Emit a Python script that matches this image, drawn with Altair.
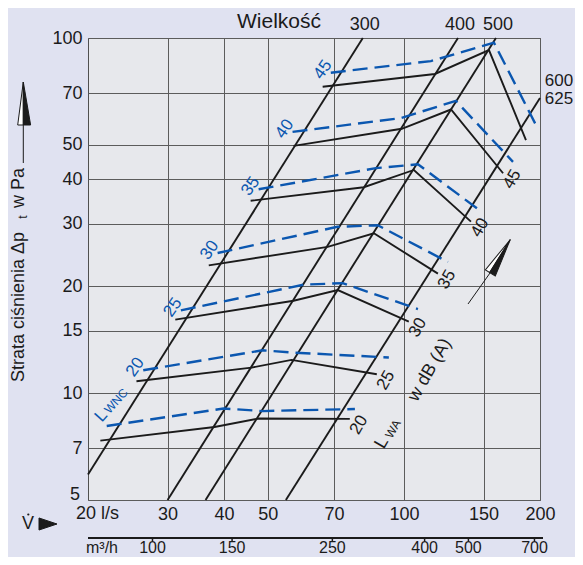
import math
import altair as alt
import pandas as pd

# ---------------- data ----------------
x_ticks = [30, 40, 50, 70, 100, 150, 200]
y_ticks = [5, 7, 10, 15, 20, 30, 40, 50, 70, 100]
m3h_ticks = [100, 150, 250, 400, 500, 700]

# size lines (Wielkość): straight lines on log-log paper
size_top_labels = ["300", "400", "500"]
size_side_labels = ["600", "625"]
size_v0 = [20.0, 30.0, 36.4, 54.8]
size_p0 = [5.9, 5.0, 5.0, 5.0]
size_v1 = [81.1, 131.7, 159.8, 200.0]
size_p1 = [100.0, 100.0, 100.0, 67.8]

# L_WA curves (black, solid)
lwa_labels = ["20", "25", "30", "35", "40", "45", ""]
lwa_v = [
    [21.3, 38.1, 47.7, 75.9],
    [25.6, 46.0, 56.4, 87.1],
    [31.2, 57.0, 71.4, 102.5],
    [37.0, 67.8, 85.8, 118.9],
    [45.8, 81.5, 105.2, 140.7],
    [57.0, 98.9, 127.1, 165.7],
    [66.1, 117.1, 154.2, 186.2],
]
lwa_p = [
    [7.35, 8.03, 8.48, 8.46],
    [10.8, 11.8, 12.4, 11.3],
    [16.1, 18.2, 19.5, 15.9],
    [22.9, 25.8, 28.2, 21.7],
    [34.8, 38.0, 42.5, 30.4],
    [49.7, 55.5, 62.9, 41.6],
    [72.9, 79.2, 92.5, 51.6],
]

# L_WNC curves (blue, dashed)
lwnc_labels = ["", "20", "25", "30", "35", "40", "45"]
lwnc_v = [
    [22.0, 39.9, 48.7, 77.9],
    [26.5, 48.7, 57.3, 92.6],
    [32.1, 60.0, 73.2, 107.4],
    [38.7, 71.3, 87.5, 125.1],
    [47.7, 86.7, 107.4, 146.6],
    [56.7, 98.4, 130.3, 174.3],
    [68.9, 114.7, 158.2, 195.9],
]
lwnc_p = [
    [8.08, 9.05, 8.90, 9.02],
    [11.6, 13.2, 13.0, 12.6],
    [17.1, 20.2, 20.4, 17.25],
    [24.8, 29.4, 29.7, 23.4],
    [37.5, 43.0, 44.1, 32.8],
    [54.4, 59.5, 66.5, 44.8],
    [79.85, 86.1, 97.0, 56.9],
]

# ---------------- styling ----------------
FONT = "Liberation Sans"
BLUE = "#0b57b0"
INK = "#1b1b1b"
GRID = "#5c5c5c"
BG = "#e0e2f1"
PLOT_BG = "#e7e8ec"


def curve_frame(vs_list, ps_list):
    rows = []
    for i, (vs, ps) in enumerate(zip(vs_list, ps_list)):
        for j, (v, p) in enumerate(zip(vs, ps)):
            rows.append({"curve": i, "ord": j, "V": v, "p": p})
    return pd.DataFrame(rows)


lwa_df = curve_frame(lwa_v, lwa_p)
lwnc_df = curve_frame(lwnc_v, lwnc_p)
size_df = pd.DataFrame({"V0": size_v0, "p0": size_p0, "V1": size_v1, "p1": size_p1})
size_top_df = pd.DataFrame({"V": size_v1[:3], "label": size_top_labels})
lwa_lab_df = pd.DataFrame(
    [{"V": v[-1], "p": p[-1], "label": l} for v, p, l in zip(lwa_v, lwa_p, lwa_labels) if l]
)
lwnc_lab_df = pd.DataFrame(
    [{"V": v[0], "p": p[0], "label": l} for v, p, l in zip(lwnc_v, lwnc_p, lwnc_labels) if l]
)
m3h_df = pd.DataFrame({"m3h": m3h_ticks})

xs = alt.Scale(type="log", domain=[20, 200], nice=False, zero=False)
ys = alt.Scale(type="log", domain=[5, 100], nice=False, zero=False)

x_axis = alt.Axis(values=x_ticks, format="d", grid=True, gridColor=GRID, gridWidth=1,
                  domain=False, ticks=False, labelFont=FONT, labelFontSize=18,
                  labelColor=INK, labelPadding=5, labelFlush=False, labelOverlap=False,
                  title=None)
y_axis = alt.Axis(values=y_ticks, format="d", grid=True, gridColor=GRID, gridWidth=1,
                  domain=False, ticks=False, labelFont=FONT, labelFontSize=18,
                  labelColor=INK, labelPadding=6, labelFlush=False, labelOverlap=False,
                  title=None, labelExpr="datum.value == 5 ? '' : datum.label")


def X(f="V"):
    return alt.X(f"{f}:Q", scale=xs, axis=x_axis)


def Y(f="p"):
    return alt.Y(f"{f}:Q", scale=ys, axis=y_axis)


def rot_off(dx, dy, a_deg):
    a = math.radians(a_deg)
    return dx * math.cos(a) + dy * math.sin(a), -dx * math.sin(a) + dy * math.cos(a)


ONE = alt.Data(values=[{}])


def txt(text, px, py, size=18, angle=0, align="center", color=INK):
    return alt.Chart(ONE).mark_text(
        text=text, font=FONT, fontSize=size, angle=angle, align=align,
        baseline="middle", color=color
    ).encode(x=alt.value(px), y=alt.value(py))


def head(path, px, py, size, angle, fill):
    return alt.Chart(ONE).mark_point(
        shape=path, size=size, filled=True, fill=fill, stroke=INK, strokeWidth=1,
        angle=angle, opacity=1
    ).encode(x=alt.value(px), y=alt.value(py))


LEFT_HALF = "M0,-1L-0.26,1L0,1Z"
RIGHT_HALF = "M0,-1L0,1L0.34,1Z"

# ---------------- layers ----------------
lwa_lines = alt.Chart(lwa_df).mark_line(color=INK, strokeWidth=1.9).encode(
    x=X(), y=Y(), detail="curve:N", order="ord:Q")

size_lines = alt.Chart(size_df).mark_rule(color=INK, strokeWidth=1.9).encode(
    x=X("V0"), y=Y("p0"), x2="V1:Q", y2="p1:Q")

lwnc_lines = alt.Chart(lwnc_df).mark_line(
    color=BLUE, strokeWidth=2.4, strokeDash=[15, 7]).encode(
    x=X(), y=Y(), detail="curve:N", order="ord:Q")

bdx, bdy = rot_off(9, 6, 300)
lwa_labels_layer = alt.Chart(lwa_lab_df).mark_text(
    font=FONT, fontSize=17, angle=300, align="center", baseline="middle",
    color=INK, dx=bdx, dy=bdy).encode(x=X(), y=Y(), text="label:N")

ndx, ndy = rot_off(-8, -3, 305)
lwnc_labels_layer = alt.Chart(lwnc_lab_df).mark_text(
    font=FONT, fontSize=17, angle=305, align="center", baseline="middle",
    color=BLUE, dx=ndx, dy=ndy).encode(x=X(), y=Y(), text="label:N")

size_top = alt.Chart(size_top_df).mark_text(
    font=FONT, fontSize=18, align="center", baseline="middle", color=INK, dx=2
).encode(x=X(), y=alt.value(-13), text="label:N")

# secondary flow axis in m3/h
m3h_line = alt.Chart(ONE).mark_rule(color=INK, strokeWidth=2).encode(
    x=alt.value(0), x2=alt.value(455), y=alt.value(500))
m3h_tick = alt.Chart(m3h_df).transform_calculate(V="datum.m3h / 3.6").mark_rule(
    color=INK, strokeWidth=1.5).encode(x=X(), y=alt.value(500), y2=alt.value(503.5))
m3h_text = alt.Chart(m3h_df).transform_calculate(V="datum.m3h / 3.6").mark_text(
    font=FONT, fontSize=16, align="center", baseline="middle", color=INK).encode(
    x=X(), y=alt.value(510), text="m3h:N")

layers = [
    lwa_lines, size_lines, lwnc_lines, lwa_labels_layer, lwnc_labels_layer, size_top,
    m3h_line, m3h_tick, m3h_text,
    txt("Wielkość", 191, -16, size=21),
    txt(size_side_labels[0], 471, 43, size=17),
    txt(size_side_labels[1], 471, 61, size=17),
    txt("5", -13, 457, align="center"),
    txt("20 l/s", -12, 476, align="left"),
    txt("m³/h", -2, 510, size=16, align="left"),
    # y title
    txt("Strata ciśnienia  Δp", -69, 344, angle=270, align="left"),
    txt("t", -65.5, 179, size=12, angle=270),
    txt("w Pa", -69, 170, angle=270, align="left"),
    # V-dot and arrow
    txt("V", -60, 486, size=18),
    alt.Chart(ONE).mark_point(shape="circle", size=5, filled=True, color=INK, opacity=1).encode(
        x=alt.value(-59.7), y=alt.value(476.5)),
    head("M-1,-0.67L1,0L-1,0.67Z", -40, 486, 324, 0, INK),
    # vertical arrow beside y title
    alt.Chart(ONE).mark_rule(color=INK, strokeWidth=1).encode(
        x=alt.value(-64.7), y=alt.value(86), y2=alt.value(125)),
    head(LEFT_HALF, -64.7, 65.5, 1849, 0, "white"),
    head(RIGHT_HALF, -64.7, 65.5, 1849, 0, INK),
    # diagonal arrow for L_WA
    alt.Chart(ONE).mark_rule(color=INK, strokeWidth=1).encode(
        x=alt.value(380), y=alt.value(266), x2=alt.value(402), y2=alt.value(235)),
    head(LEFT_HALF, 412, 218, 1521, 32, "white"),
    head(RIGHT_HALF, 412, 218, 1521, 32, INK),
    # L_WA w dB (A)
    txt("L", 294, 405, size=18, angle=300),
    txt("WA", 305, 391, size=12, angle=300),
    txt("w dB (A)", 342, 332, size=18, angle=300),
    # L_WNC
    txt("L", 13.3, 378, size=17, angle=312, color=BLUE),
    txt("WNC", 28, 363, size=12, angle=312, color=BLUE),
]

chart = alt.layer(*layers).properties(
    width=452, height=462,
    padding={"left": 80, "top": 30, "right": 35, "bottom": 57},
    autosize=alt.AutoSizeParams(type="none"),
    background=BG,
).configure_view(fill=PLOT_BG, stroke="#505050", strokeWidth=1)

chart.save("out.html", embed_options={"renderer": "svg", "actions": False})
